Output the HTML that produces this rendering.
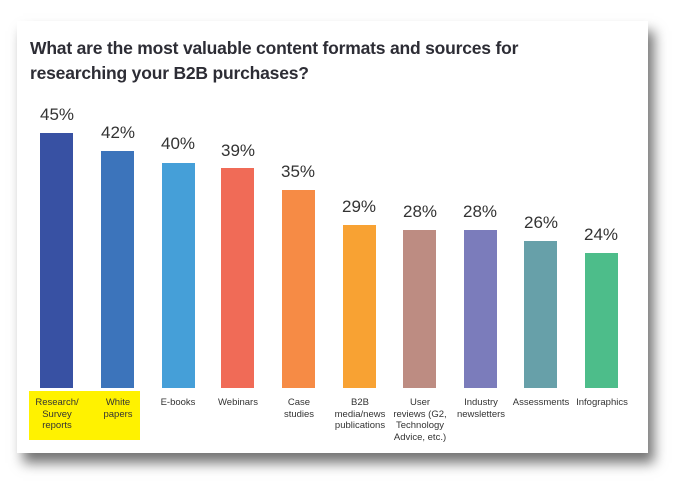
<!DOCTYPE html>
<html><head><style>
body{margin:0;width:687px;height:494px;background:#fff;position:relative;overflow:hidden;font-family:"Liberation Sans",sans-serif}
.card{position:absolute;left:17px;top:21px;width:631px;height:432px;background:#fff;box-shadow:6px 10px 12px rgba(0,0,0,0.55)}
.t{position:absolute;left:30px;top:36px;font-size:17.5px;font-weight:bold;color:#2d2d35;line-height:25px;letter-spacing:-0.2px}
.b{position:absolute;width:33px;bottom:106px}
.v{position:absolute;width:60px;text-align:center;font-size:17px;color:#333}
.l{position:absolute;top:397px;width:62px;text-align:center;font-size:9.5px;line-height:11.5px;color:#333}
.y{position:absolute;left:29px;top:391px;width:111px;height:49px;background:#fff200}
</style></head><body>
<div class="card"></div>
<div class="t">What are the most valuable content formats and sources for<br>researching your B2B purchases?</div>
<div class="y"></div>
<div class="b" style="left:40px;top:133px;background:#3851a3"></div>
<div class="b" style="left:101px;top:151px;background:#3c74bb"></div>
<div class="b" style="left:162px;top:163px;background:#459fd8"></div>
<div class="b" style="left:221px;top:168px;background:#f06b57"></div>
<div class="b" style="left:282px;top:190px;background:#f68b45"></div>
<div class="b" style="left:343px;top:225px;background:#f8a233"></div>
<div class="b" style="left:403px;top:230px;background:#bd8c82"></div>
<div class="b" style="left:464px;top:230px;background:#7b7cbb"></div>
<div class="b" style="left:524px;top:241px;background:#67a0a9"></div>
<div class="b" style="left:585px;top:253px;background:#4dbd8a"></div>
<div class="v" style="left:27px;top:105px">45%</div>
<div class="v" style="left:88px;top:123px">42%</div>
<div class="v" style="left:148px;top:134px">40%</div>
<div class="v" style="left:208px;top:141px">39%</div>
<div class="v" style="left:268px;top:162px">35%</div>
<div class="v" style="left:329px;top:197px">29%</div>
<div class="v" style="left:390px;top:202px">28%</div>
<div class="v" style="left:450px;top:202px">28%</div>
<div class="v" style="left:511px;top:213px">26%</div>
<div class="v" style="left:571px;top:225px">24%</div>
<div class="l" style="left:26px">Research/<br>Survey<br>reports</div>
<div class="l" style="left:87px">White<br>papers</div>
<div class="l" style="left:147px">E-books</div>
<div class="l" style="left:207px">Webinars</div>
<div class="l" style="left:268px">Case<br>studies</div>
<div class="l" style="left:329px">B2B<br>media/news<br>publications</div>
<div class="l" style="left:389px">User<br>reviews (G2,<br>Technology<br>Advice, etc.)</div>
<div class="l" style="left:450px">Industry<br>newsletters</div>
<div class="l" style="left:510px">Assessments</div>
<div class="l" style="left:571px">Infographics</div>
</body></html>
